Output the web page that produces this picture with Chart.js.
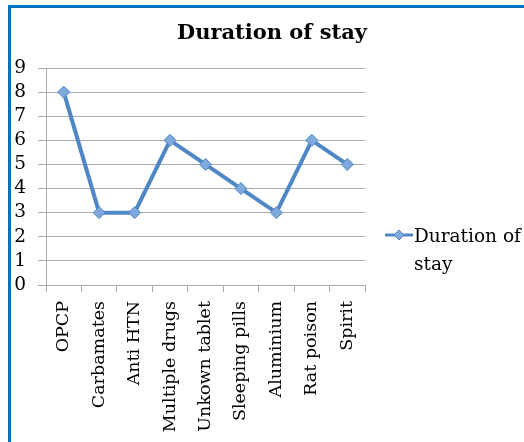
<!DOCTYPE html>
<html>
<head>
<meta charset="utf-8">
<script src="https://cdn.jsdelivr.net/npm/chart.js@4/dist/chart.umd.min.js"></script>
<style>
  html, body { margin: 0; padding: 0; background: #ffffff; }
  #frame {
    position: absolute; left: 8px; top: 5px; width: 516px; height: 437px;
    border-left: 3px solid #0070C0; border-top: 3px solid #0070C0;
    box-sizing: border-box;
  }
  #chart { position: absolute; left: 0; top: 0; }
</style>
</head>
<body>
<div id="frame"></div>
<canvas id="chart" width="524" height="442"></canvas>
<script>
// Poison categories and the stay duration recorded for each
const categories = ['OPCP', 'Carbamates', 'Anti HTN', 'Multiple drugs', 'Unkown tablet',
  'Sleeping pills', 'Aluminium', 'Rat poison', 'Spirit'];
const durationValues = [8, 3, 3, 6, 5, 4, 3, 6, 5];
const seriesName = 'Duration of stay';
const chartTitle = 'Duration of stay';
const yTicks = [0, 1, 2, 3, 4, 5, 6, 7, 8, 9];

const SERIF = '"DejaVu Serif", "Liberation Serif", serif';
const LINE_COLOR = '#4F86C6';
const POINT_FILL = '#7EA9DD';
const GRID = '#a9a9a9';

// Title and a wrapped legend drawn onto the chart canvas
const decorations = {
  id: 'decorations',
  afterDraw(chart) {
    const ctx = chart.ctx;
    ctx.save();
    ctx.fillStyle = '#000';
    ctx.font = 'bold 21px ' + SERIF;
    ctx.textAlign = 'center';
    ctx.textBaseline = 'alphabetic';
    ctx.fillText(chartTitle, 272, 39);

    const ds = chart.data.datasets[0];
    const ly = 235;
    ctx.strokeStyle = ds.borderColor;
    ctx.lineWidth = 3;
    ctx.beginPath();
    ctx.moveTo(385, ly);
    ctx.lineTo(413, ly);
    ctx.stroke();
    ctx.fillStyle = ds.pointBackgroundColor;
    ctx.strokeStyle = ds.pointBorderColor;
    ctx.lineWidth = 1;
    ctx.beginPath();
    ctx.moveTo(399, ly - 5);
    ctx.lineTo(404, ly);
    ctx.lineTo(399, ly + 5);
    ctx.lineTo(394, ly);
    ctx.closePath();
    ctx.fill();
    ctx.stroke();

    ctx.font = '18.5px ' + SERIF;
    ctx.fillStyle = '#000';
    ctx.textAlign = 'left';
    ctx.textBaseline = 'middle';
    const maxW = 112;
    const words = ds.label.split(' ');
    const lines = [];
    let cur = '';
    for (const w of words) {
      const t = cur ? cur + ' ' + w : w;
      if (ctx.measureText(t).width > maxW && cur) { lines.push(cur); cur = w; }
      else cur = t;
    }
    if (cur) lines.push(cur);
    lines.forEach((l, i) => ctx.fillText(l, 414, ly + 2 + i * 28));
    ctx.restore();
  }
};

new Chart(document.getElementById('chart'), {
  type: 'line',
  data: {
    labels: categories,
    datasets: [{
      label: seriesName,
      data: durationValues,
      borderColor: LINE_COLOR,
      borderWidth: 4,
      tension: 0,
      pointStyle: 'rectRot',
      pointRadius: 6,
      pointHoverRadius: 6,
      pointBackgroundColor: POINT_FILL,
      pointBorderColor: LINE_COLOR,
      pointBorderWidth: 1
    }]
  },
  options: {
    responsive: false,
    animation: false,
    devicePixelRatio: 1,
    layout: { padding: { top: 68, right: 159, left: 0, bottom: 0 } },
    plugins: { legend: { display: false }, title: { display: false }, tooltip: { enabled: false } },
    scales: {
      x: {
        offset: true,
        grid: { offset: true, drawOnChartArea: false, drawTicks: true, tickLength: 7, color: GRID },
        border: { display: true, color: GRID },
        ticks: {
          color: '#000', font: { family: SERIF, size: 17.5 },
          minRotation: 90, maxRotation: 90, padding: 9, autoSkip: false
        },
        afterFit(s) { s.height = 157; }
      },
      y: {
        min: 0, max: 9,
        afterBuildTicks(s) { s.ticks = yTicks.map(v => ({ value: v })); },
        grid: { color: GRID, tickLength: 8, drawTicks: true },
        border: { display: true, color: GRID },
        ticks: { color: '#000', font: { family: SERIF, size: 18.5 }, padding: 12, autoSkip: false },
        afterFit(s) { s.width = 46; }
      }
    }
  },
  plugins: [decorations]
});
</script>
</body>
</html>
